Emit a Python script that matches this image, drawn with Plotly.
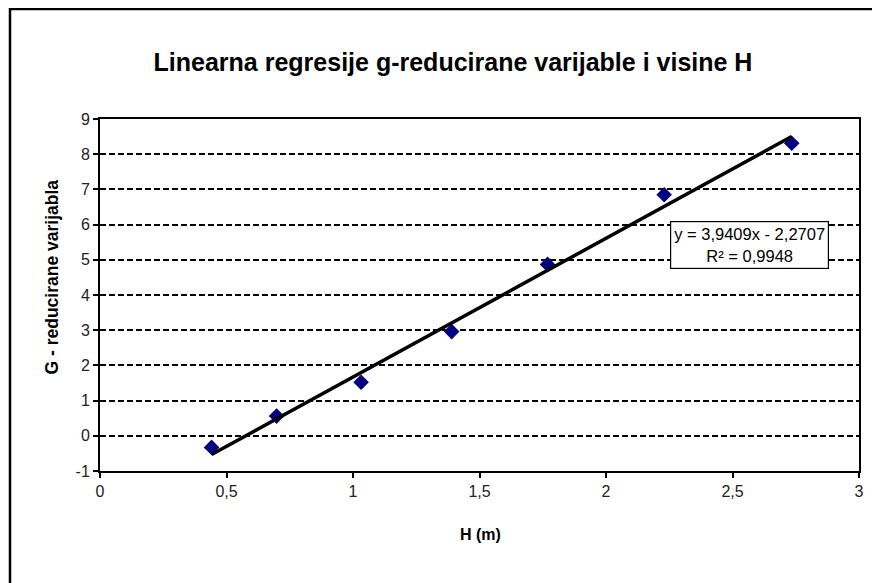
import plotly.graph_objects as go

# Data
h_values = [0.441, 0.698, 1.032, 1.390, 1.769, 2.230, 2.734]
g_values = [-0.33, 0.56, 1.52, 2.96, 4.87, 6.85, 8.31]

slope = 3.9409
intercept = -2.2707
equation_text = "y = 3,9409x - 2,2707"
r_squared_text = "R² = 0,9948"

x_tick_vals = [0, 0.5, 1, 1.5, 2, 2.5, 3]
x_tick_text = ["0", "0,5", "1", "1,5", "2", "2,5", "3"]
y_tick_vals = [-1, 0, 1, 2, 3, 4, 5, 6, 7, 8, 9]
y_tick_text = ["-1", "0", "1", "2", "3", "4", "5", "6", "7", "8", "9"]

title_text = "Linearna regresije g-reducirane varijable i visine H"
x_title = "H (m)"
y_title = "G - reducirane varijabla"

trend_x = [min(h_values), max(h_values)]
trend_y = [slope * v + intercept for v in trend_x]

FONT = "Liberation Sans, Arial, sans-serif"

fig = go.Figure()
fig.add_trace(go.Scatter(
    x=h_values, y=g_values, mode="markers",
    marker=dict(symbol="diamond", size=12, color="#000080"),
    showlegend=False, hoverinfo="skip"))
fig.add_trace(go.Scatter(
    x=trend_x, y=trend_y, mode="lines",
    line=dict(color="black", width=3.5),
    showlegend=False, hoverinfo="skip"))

# page offset (body margin) compensation
OFF = 8
FW, FH = 880 - OFF, 583 - OFF
# plot area in page pixels
PL, PR, PT, PB = 100, 859, 119, 471
pw, ph = PR - PL, PB - PT

def px_to_paper_x(px):
    return (px - PL) / pw

def px_to_paper_y(py):
    return (PB - py) / ph

fig.update_layout(
    width=FW, height=FH,
    margin=dict(l=PL - OFF, r=FW - (PR - OFF), t=PT - OFF, b=FH - (PB - OFF), pad=0),
    paper_bgcolor="white", plot_bgcolor="white",
    font=dict(family=FONT, size=16, color="#111"),
    title=dict(text="<b>" + title_text + "</b>", x=(453 - OFF) / FW, xanchor="center",
               y=1 - (62 - OFF) / FH, yanchor="middle",
               font=dict(family=FONT, size=25, color="black")),
    xaxis=dict(range=[0, 3], tickvals=x_tick_vals, ticktext=x_tick_text,
               showgrid=False, zeroline=False,
               showline=True, linecolor="black", linewidth=2, mirror=True,
               ticks="outside", ticklen=5, tickwidth=1.5, tickcolor="black",
               tickfont=dict(size=16, color="#222")),
    yaxis=dict(range=[-1, 9], tickvals=y_tick_vals, ticktext=y_tick_text,
               showgrid=True, gridcolor="black", gridwidth=1.5, griddash="6px,3px",
               zeroline=False,
               showline=True, linecolor="black", linewidth=2, mirror=True,
               ticks="outside", ticklen=5, tickwidth=1.5, tickcolor="black",
               tickfont=dict(size=16, color="#222")),
    shapes=[dict(type="path", xref="paper", yref="paper",
                 path="M {a},{b} L {a},{c} L {d},{c}".format(
                     a=px_to_paper_x(10), b=px_to_paper_y(600),
                     c=px_to_paper_y(9), d=px_to_paper_x(900)),
                 line=dict(color="black", width=2.5))],
    annotations=[
        dict(text="<b>" + x_title + "</b>", xref="paper", yref="paper",
             x=px_to_paper_x(480), y=px_to_paper_y(534),
             xanchor="center", yanchor="middle",
             showarrow=False, font=dict(size=16, color="black")),
        dict(text="<b>" + y_title + "</b>", xref="paper", yref="paper",
             x=px_to_paper_x(51), y=px_to_paper_y(276.5), textangle=-90,
             xanchor="center", yanchor="middle",
             showarrow=False, font=dict(size=17.5, color="black")),
        dict(text=equation_text + "<br>" + r_squared_text,
             xref="paper", yref="paper",
             x=px_to_paper_x(749.5), y=px_to_paper_y(245),
             xanchor="center", yanchor="middle",
             showarrow=False, align="center", bgcolor="white",
             bordercolor="black", borderwidth=1.2, borderpad=3,
             font=dict(size=16.5, color="black")),
    ],
)

fig.write_html("out.html")
